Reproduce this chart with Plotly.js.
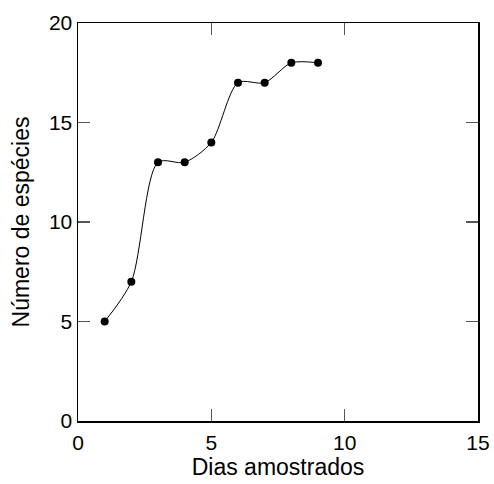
<!DOCTYPE html>
<html>
<head>
<meta charset="utf-8">
<script src="https://cdn.plot.ly/plotly-3.0.1.min.js"></script>
<style>html,body{margin:0;padding:0;background:#fff;}#chart{width:494px;height:484px;}</style>
</head>
<body>
<div id="chart"></div>
<script>
const dias = [1, 2, 3, 4, 5, 6, 7, 8, 9];
const especies = [5, 7, 13, 13, 14, 17, 17, 18, 18];
const xTicks = [0, 5, 10, 15];
const yTicks = [0, 5, 10, 15, 20];

const trace = {
  x: dias, y: especies, type: 'scatter', mode: 'lines+markers',
  line: {shape: 'spline', smoothing: 0.8, color: '#000', width: 1},
  marker: {color: '#000', size: 8},
  cliponaxis: false
};
const axisCommon = {
  showgrid: false, zeroline: false, showline: true, mirror: 'ticks',
  linecolor: '#000', linewidth: 1.5, ticks: 'inside', ticklen: 12, tickwidth: 1.5, tickcolor: '#555',
  tickfont: {family: 'Liberation Sans, Arial, sans-serif', size: 21, color: '#000'}
};
const layout = {
  width: 494, height: 484,
  margin: {l: 78, r: 16, t: 23, b: 63},
  paper_bgcolor: '#fff', plot_bgcolor: '#fff',
  showlegend: false,
  font: {family: 'Liberation Sans, Arial, sans-serif', color: '#000'},
  xaxis: Object.assign({}, axisCommon, {
    range: [0, 15], tickvals: xTicks, ticktext: xTicks.map(String),
    ticklabelstandoff: 2,
    title: {text: 'Dias amostrados', font: {size: 23}, standoff: 2}
  }),
  yaxis: Object.assign({}, axisCommon, {
    range: [0, 20], tickvals: yTicks, ticktext: yTicks.map(String),
    title: {text: 'Número de espécies', font: {size: 23}, standoff: 13}
  })
};
Plotly.newPlot('chart', [trace], layout, {displayModeBar: false, staticPlot: true});
</script>
</body>
</html>
